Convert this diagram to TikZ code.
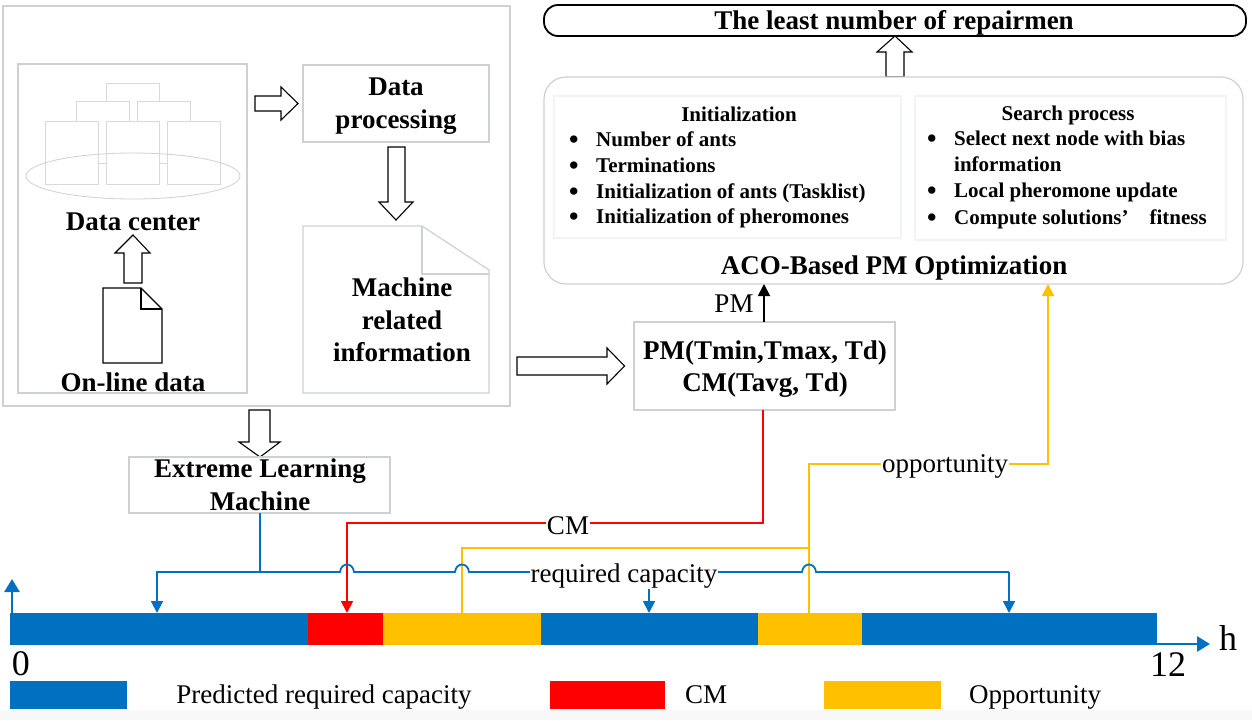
\documentclass[tikz,border=0pt]{standalone}
\usepackage{fontspec}
\setmainfont{Liberation Serif}
\usetikzlibrary{arrows.meta,shapes.geometric}
\definecolor{cblue}{HTML}{0070C0}
\definecolor{cred}{HTML}{FF0000}
\definecolor{cyel}{HTML}{FFC000}
\definecolor{gline}{HTML}{CDD1D5}
\definecolor{lline}{HTML}{F1F4F6}
\definecolor{bandc}{HTML}{F8F8F8}
\tikzset{
  pbox/.style={anchor=north west,inner sep=0pt,outer sep=0pt},
  graybox/.style={pbox,draw=gline,line width=1.2pt,fill=white},
  serverbox/.style={draw=gline!80,line width=.8pt,fill=white},
  panel/.style={pbox,draw=lline,line width=2pt},
  bold27/.style={font=\fontsize{27}{32.5}\selectfont\bfseries,align=center,inner sep=0pt},
  reg27/.style={font=\fontsize{27}{32}\selectfont,inner sep=0pt},
  regbg/.style={reg27,fill=white,inner xsep=1pt,inner ysep=1pt},
  bold21/.style={font=\fontsize{21}{25}\selectfont\bfseries,inner sep=0pt},
  blockarrow/.style={draw=black,line width=1.1pt,fill=white,line join=miter},
  barseg/.style={pbox,minimum height=32pt},
  legendbox/.style={pbox,minimum height=28pt},
  bluewire/.style={draw=cblue,line width=1.8pt},
  redwire/.style={draw=cred,line width=1.8pt},
  yelwire/.style={draw=cyel,line width=1.8pt},
  tip/.style={-{Triangle[length=12pt,width=12pt]}},
  axistip/.style={-{Triangle[length=13pt,width=15pt]}},
}
\newcommand{\bulline}[4]{\node[bold21,anchor=base west] (#1) at (#2,#3) {\makebox[27pt][l]{\raisebox{-.14em}{\fontsize{27}{27}\selectfont\textbullet}}#4};}
\begin{document}
\begin{tikzpicture}[x=1pt,y=-1pt]
\useasboundingbox (0,0) rectangle (1252,720);
\fill[bandc] (0,710) rectangle (1252,720);

% left group
\node[graybox,minimum width=507pt,minimum height=400pt] (outer) at (3,6) {};
\node[graybox,minimum width=229pt,minimum height=329pt] (dc) at (18,64) {};
\draw[serverbox] (106,83) rectangle (159,163);
\draw[serverbox] (76,101) rectangle (129,163);
\draw[serverbox] (137,101) rectangle (190,163);
\draw[serverbox] (45,121) rectangle (98,184);
\draw[serverbox] (106,121) rectangle (159,184);
\draw[serverbox] (167,121) rectangle (220,184);
\draw[gline,line width=.8pt] (133,176) ellipse [x radius=107,y radius=23];
\node[bold27] (dclabel) at (133,222) {Data center};
\node[bold27] (ollabel) at (133,382) {On-line data};
% on-line data document
\draw[black,line width=1.1pt,fill=white] (103,288) -- (141,288) -- (162,309) -- (162,363) -- (103,363) -- cycle;
\draw[black,line width=1.1pt] (141,288) -- (141,309) -- (162,309);
% block arrows
\draw[blockarrow] (124,283) -- (124,253) -- (115,253) -- (133,235) -- (150,253) -- (142,253) -- (142,283) -- cycle;
\draw[blockarrow] (255,96) -- (281,96) -- (281,87) -- (298,103.5) -- (281,120) -- (281,111) -- (255,111) -- cycle;
\draw[blockarrow] (388,147) -- (405,147) -- (405,202) -- (413,202) -- (396,220) -- (379,202) -- (388,202) -- cycle;
\draw[blockarrow] (517,357) -- (607,357) -- (607,348) -- (624.5,366) -- (607,384) -- (607,375) -- (517,375) -- cycle;
\draw[blockarrow] (249,410) -- (249,442) -- (239,442) -- (260,457) -- (280,442) -- (270,442) -- (270,410) -- cycle;
\draw[blockarrow] (886,77) -- (886,52) -- (877,52) -- (895,36) -- (912,52) -- (904,52) -- (904,77) -- cycle;

\node[graybox,minimum width=186pt,minimum height=77pt] (dp) at (303,65) {};
\node[bold27] (dplabel) at (396,106) {Data\\processing};
% machine document
\draw[gline,line width=1.2pt,fill=white] (303,226) -- (422,226) -- (489,270) -- (489,393) -- (303,393) -- cycle;
\draw[gline,line width=1.2pt] (422,226) -- (422,274) -- (489,274);
\node[bold27] (mri) at (402,320) {Machine\\related\\information};

% ELM
\node[graybox,minimum width=261pt,minimum height=56pt] (elm) at (129,457) {};
\node[bold27] (elmlabel) at (260,485) {Extreme Learning\\Machine};

% PM box
\node[graybox,minimum width=261pt,minimum height=88pt] (pmbox) at (634,322) {};
\node[bold27] (pmtext) at (765,369) {PM(Tmin,Tmax, Td)\\CM(Tavg, Td)};

% top goal
\node[pbox,draw=black,line width=1.8pt,rounded corners=14pt,fill=white,minimum width=702pt,minimum height=31pt] (goal) at (544,5) {};
\node[bold27] (goallabel) at (894,23) {The least number of repairmen};

% ACO
\node[pbox,draw=gline,line width=1.2pt,rounded corners=22pt,fill=white,minimum width=699pt,minimum height=207pt] (aco) at (544,77) {};
\node[panel,minimum width=347pt,minimum height=142pt] (pinit) at (554,96) {};
\node[panel,minimum width=311pt,minimum height=144pt] (psearch) at (915,96) {};
\node[bold21] (tinit) at (739,114) {Initialization};
\node[bold21] (tsearch) at (1068,115) {Search process};
\bulline{i1}{569}{146}{Number of ants}
\bulline{i2}{569}{172}{Terminations}
\bulline{i3}{569}{198}{Initialization of ants (Tasklist)}
\bulline{i4}{569}{223}{Initialization of pheromones}
\bulline{s1}{927}{145}{Select next node with bias}
\node[bold21,anchor=base west] (s1b) at (954,171) {information};
\bulline{s2}{927}{197}{Local pheromone update}
\bulline{s3}{927}{224}{Compute solutions’\hspace{1em}fitness}
\node[bold27] (acolabel) at (894,268) {ACO-Based PM Optimization};

% bar
\node[barseg,fill=cblue,minimum width=298pt] (b1) at (10,613) {};
\node[barseg,fill=cred,minimum width=75pt] (r1) at (308,613) {};
\node[barseg,fill=cyel,minimum width=158pt] (y1) at (383,613) {};
\node[barseg,fill=cblue,minimum width=217pt] (b2) at (541,613) {};
\node[barseg,fill=cyel,minimum width=104pt] (y2) at (758,613) {};
\node[barseg,fill=cblue,minimum width=295pt] (b3) at (862,613) {};

% axes
\coordinate (yorig) at (12,614);
\coordinate (ytop) at (12,579);
\coordinate (xorig) at (1157,644);
\coordinate (xend) at (1210,644);
\draw[bluewire,line width=2.6pt,axistip] (yorig) -- (ytop);
\draw[bluewire,line width=2.6pt,axistip] (xorig) -- (xend);
\node[font=\fontsize{36}{36}\selectfont,inner sep=0pt] (zero) at (21,664) {0};
\node[font=\fontsize{36}{36}\selectfont,inner sep=0pt] (twelve) at (1168,665) {12};
\node[font=\fontsize{36}{36}\selectfont,inner sep=0pt] (hlabel) at (1228,638) {h};

% wires: yellow
\coordinate (yu) at (809,464);
\coordinate (yr) at (1048,464);
\coordinate (ymid) at (809,548);
\coordinate (ylft) at (462,548);
\coordinate (y1t) at (462,613);
\coordinate (y2t) at (809,613);
\coordinate (acoy) at (1048,284);
\draw[yelwire,tip] (y2t) -- (yu) -- (yr) -- (acoy);
\draw[yelwire] (ymid) -- (ylft) -- (y1t);

% wires: red
\coordinate (pmr) at (763,410);
\coordinate (rc1) at (763,523);
\coordinate (rc2) at (347,523);
\coordinate (r1t) at (347,613);
\draw[redwire,tip] (pmr) -- (rc1) -- (rc2) -- (r1t);

% wires: blue
\coordinate (elmb) at (260,513);
\coordinate (bj) at (260,572);
\coordinate (bl) at (157,572);
\coordinate (blt) at (157,613);
\coordinate (br) at (1009,572);
\coordinate (brt) at (1009,613);
\coordinate (bmidtop) at (649,589);
\coordinate (bmidt) at (649,613);
\draw[bluewire] (elmb) -- (bj);
\draw[bluewire,tip] (bj) -- (bl) -- (blt);
\draw[bluewire] (bj) -- (340,572) .. controls (341,562) and (353,562) .. (354,572)
  -- (455,572) .. controls (456,562) and (468,562) .. (469,572)
  -- (802,572) .. controls (803,562) and (815,562) .. (816,572)
  -- (br);
\draw[bluewire,tip] (br) -- (brt);
\draw[bluewire,tip] (bmidtop) -- (bmidt);

% PM arrow
\coordinate (pmt) at (764,322);
\coordinate (acob) at (764,284);
\draw[black,line width=1.8pt,tip] (pmt) -- (acob);
\node[reg27] (pmlabel) at (734,304) {PM};
\node[regbg] (cmlabel) at (568,526) {CM};
\node[regbg] (opplabel) at (945,466) {opportunity};
\node[regbg] (reqlabel) at (624,576) {required capacity};

% legend
\node[legendbox,fill=cblue,minimum width=117pt] (lb) at (10,681) {};
\node[legendbox,fill=cred,minimum width=115pt] (lr) at (550,681) {};
\node[legendbox,fill=cyel,minimum width=117pt] (ly) at (824,681) {};
\node[reg27] (lbt) at (324,697) {Predicted required capacity};
\node[reg27] (lrt) at (706,695) {CM};
\node[reg27] (lyt) at (1035,697) {Opportunity};
\end{tikzpicture}
\end{document}
